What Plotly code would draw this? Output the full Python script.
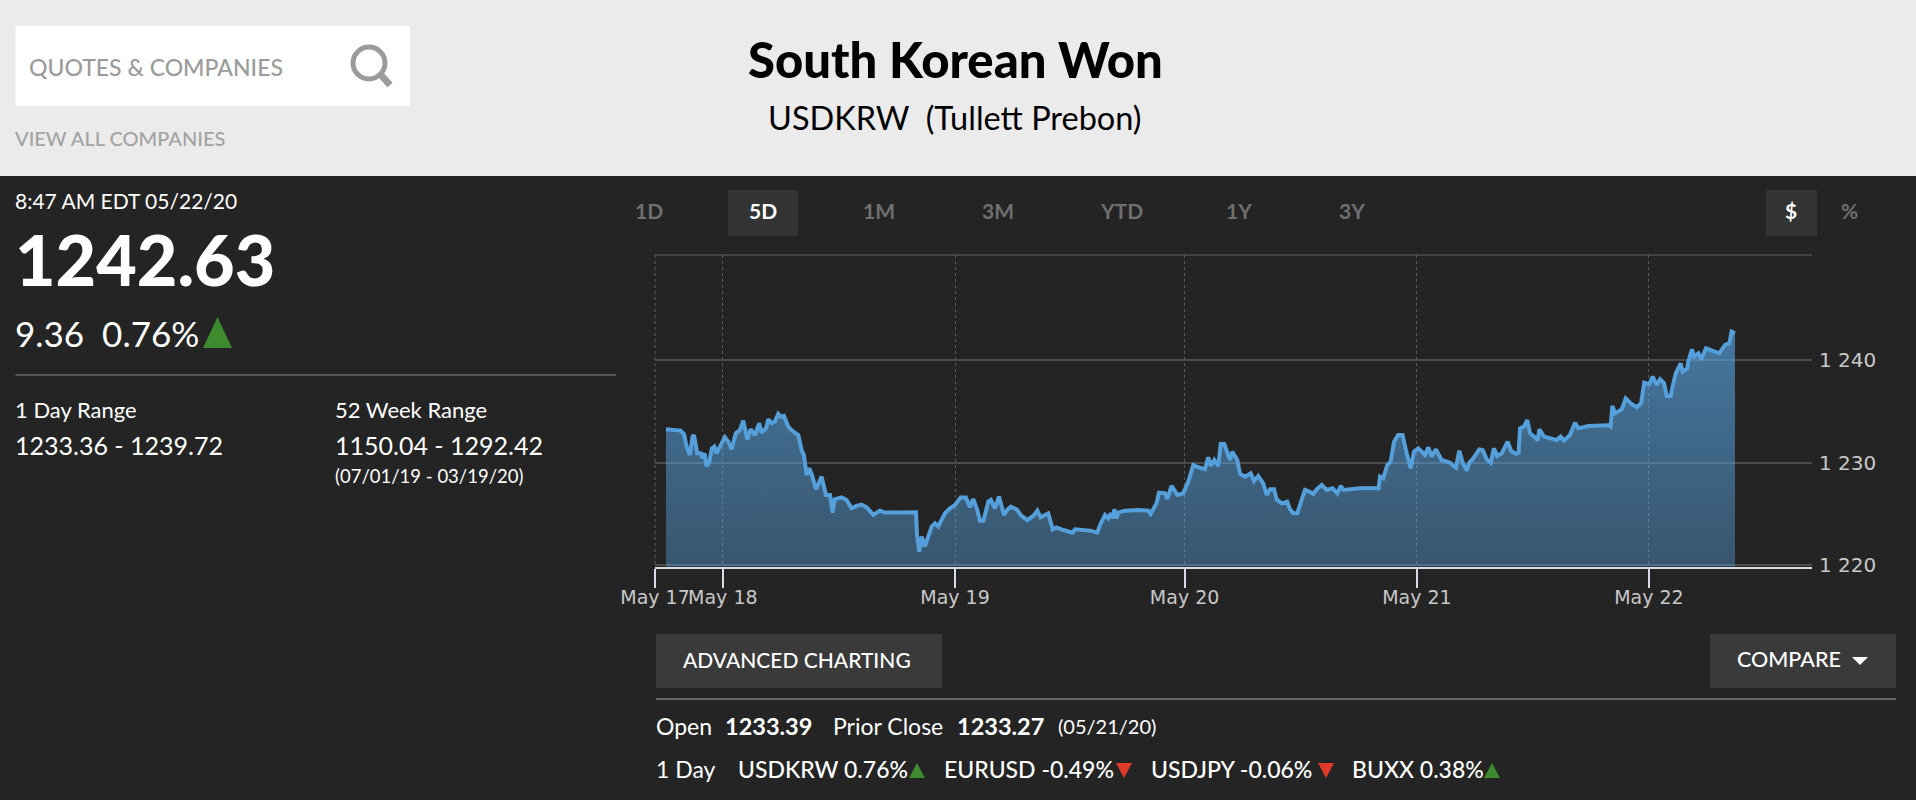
import plotly.graph_objects as go

W, H = 1916, 800

# minutes after May 18 00:00
minutes = [
    -353, -308, -262, -241, -225, -204, -188, -179, -159, -138, -126, -113, -101, -84, -68, -53, -39, -18,
    13, 34, 54, 81, 106, 127, 152, 172, 199, 226, 241, 268, 282, 303, 323, 344, 359, 379, 406, 437, 468,
    489, 503, 520, 536, 553, 578, 613, 640, 665, 681, 694, 737, 768, 799, 830, 861, 892, 934, 975, 1006,
    1099, 1199, 1205, 1219, 1234, 1254, 1275,
    1296, 1317, 1337, 1352, 1379, 1410, 1441, 1476, 1509, 1534, 1554, 1579, 1596, 1617, 1648, 1664, 1689,
    1714, 1745, 1765, 1788, 1823, 1854, 1890, 1927, 1952, 1972, 2020, 2047, 2072, 2113, 2171, 2186, 2279,
    2324, 2341, 2372, 2392, 2407, 2419, 2430, 2444, 2454, 2496, 2579, 2641, 2655, 2692, 2707, 2744, 2759,
    2785, 2821, 2858,
    2889, 2920, 2941, 2992, 3013, 3028, 3050, 3075, 3090, 3112, 3148, 3162, 3193, 3210, 3241, 3276, 3297,
    3323, 3354, 3375, 3396, 3421, 3437, 3468, 3503, 3520, 3541, 3565, 3592, 3613, 3640, 3665, 3686, 3717,
    3748, 3785, 3814, 3834, 3851, 3954, 4070, 4079, 4099, 4124, 4145, 4166, 4192, 4219, 4244, 4269, 4290,
    4317, 4358, 4379, 4399, 4426, 4461, 4492,
    4513, 4534, 4550, 4571, 4592, 4617, 4633, 4658, 4695, 4716, 4741, 4766, 4786, 4807, 4834, 4871, 4892,
    4923, 4939, 4948, 4972, 4993, 5010, 5041, 5057, 5068, 5097, 5175, 5200, 5221, 5258, 5289, 5310, 5372,
    5496, 5510, 5521, 5537, 5579, 5604, 5635, 5672, 5699, 5719, 5750, 5771, 5796, 5817, 5842, 5858, 5883,
    5899, 5916, 5945, 5957, 5986, 5992, 6015, 6028, 6055, 6073, 6102, 6137, 6185, 6220, 6247, 6261, 6282,
]
usdkrw = [
    1233.26, 1233.19, 1233.13, 1232.77, 1231.57, 1230.75, 1232.54, 1232.70, 1230.92, 1230.92, 1230.43, 1230.92,
    1229.62, 1230.10, 1231.40, 1231.57, 1230.92, 1231.57,
    1232.48, 1232.05, 1231.31, 1232.87, 1233.19, 1234.10, 1232.28, 1233.26, 1232.70, 1233.84, 1232.93, 1233.36,
    1234.23, 1233.84, 1234.01, 1234.75, 1234.49, 1234.56, 1233.52, 1233.03, 1232.70,
    1231.24, 1230.75, 1228.80, 1229.45, 1228.80, 1227.41, 1228.64, 1226.85, 1226.85, 1225.13, 1226.43, 1226.62,
    1226.36, 1225.55, 1225.78, 1225.91, 1225.65, 1224.90, 1225.32, 1225.13,
    1225.13, 1225.16, 1222.95, 1221.32, 1222.79, 1221.81, 1222.79,
    1223.76, 1224.08, 1223.76, 1224.25, 1225.06, 1225.55, 1225.87, 1226.59, 1226.59, 1225.65, 1226.46, 1225.39,
    1224.34, 1224.34, 1226.20, 1226.36, 1225.55,
    1226.69, 1224.90, 1225.39, 1225.71, 1225.45, 1224.80, 1224.41, 1224.80, 1225.32, 1224.67, 1225.06, 1223.50,
    1223.69, 1223.43, 1223.17, 1223.50, 1223.37,
    1223.17, 1223.92, 1224.90, 1224.57, 1225.06, 1224.57, 1225.45, 1224.57, 1225.13, 1225.32, 1225.39, 1225.32,
    1224.99, 1226.04, 1227.08, 1227.01, 1226.46,
    1227.73, 1226.85, 1227.01,
    1228.15, 1229.77, 1229.61, 1229.35, 1230.52, 1229.68, 1230.26, 1229.68, 1231.82, 1231.82, 1230.26, 1231.07,
    1230.26, 1228.90, 1228.64, 1228.96, 1228.21,
    1228.70, 1227.99, 1226.85, 1227.40, 1227.40, 1226.42, 1226.03, 1226.20, 1225.45, 1225.06, 1225.06, 1226.52,
    1227.34, 1227.17, 1226.95, 1227.40, 1227.82,
    1227.34, 1227.50, 1227.01, 1227.73, 1227.34, 1227.50, 1227.50, 1228.64, 1228.47, 1229.77, 1230.10, 1232.05,
    1232.70, 1232.70, 1230.91, 1229.45, 1231.07,
    1231.40, 1230.75, 1231.50, 1230.59, 1231.30, 1230.26, 1230.10,
    1230.00, 1229.68, 1229.51, 1231.17, 1230.00, 1229.22, 1230.00, 1230.42, 1231.30, 1231.24, 1230.33, 1230.00,
    1231.40, 1230.65, 1230.91, 1232.05, 1231.17,
    1230.85, 1230.98, 1233.35, 1233.51, 1234.16, 1232.86, 1232.47, 1232.15, 1233.25, 1232.54, 1232.21, 1232.54,
    1232.15, 1232.70, 1233.90, 1233.35, 1233.58,
    1233.64, 1233.51, 1235.53, 1234.81, 1235.20, 1236.28, 1235.79, 1235.40, 1235.79, 1237.81, 1237.64, 1238.39,
    1237.58, 1238.13, 1237.74, 1236.51, 1236.51,
    1237.74, 1238.78, 1239.69, 1238.88, 1239.20, 1239.85, 1241.06, 1240.34, 1240.67, 1240.08, 1241.16, 1240.93,
    1240.67, 1241.48, 1241.64, 1242.78, 1242.63,
]

tick_minutes = [-421, 0, 1441, 2866, 4308, 5748]
tick_days = ['May 17', 'May 18', 'May 19', 'May 20', 'May 21', 'May 22']
price_ticks = [1220, 1230, 1240]
price_labels = ['1 220', '1 230', '1 240']

range_tabs = ['1D', '5D', '1M', '3M', 'YTD', '1Y', '3Y']
tab_centers = [649, 763, 879, 998, 1121, 1239, 1352]

BODY = 'Lato'
AXIS = 'DejaVu Sans'


def px(x):
    return x / W


def py(y):
    return 1 - y / H


def text(fig, x, y, s, size, color='#ffffff', anchor='left', weight=400, family=BODY):
    # left-anchored annotations sit a touch right of where the glyphs should start
    if anchor == 'left':
        x -= 1.5
    fig.add_annotation(x=px(x), y=py(y - 1), xref='paper', yref='paper', text=s, showarrow=False,
                       xanchor=anchor, yanchor='middle', borderpad=0,
                       font=dict(family=family, size=size, color=color, weight=weight))


def rect(fig, x0, y0, x1, y1, color):
    fig.add_shape(type='rect', xref='paper', yref='paper', x0=px(x0), x1=px(x1), y0=py(y0), y1=py(y1),
                  fillcolor=color, line_width=0, layer='below')


def rule(fig, x0, y0, x1, y1, color, width, dash='solid'):
    fig.add_shape(type='line', xref='paper', yref='paper', x0=px(x0), x1=px(x1), y0=py(y0), y1=py(y1),
                  line=dict(color=color, width=width, dash=dash), layer='below')


def triangle(fig, x0, x1, y_base, y_tip, color):
    mid = (x0 + x1) / 2
    path = f'M {px(x0)} {py(y_base)} L {px(x1)} {py(y_base)} L {px(mid)} {py(y_tip)} Z'
    fig.add_shape(type='path', xref='paper', yref='paper', path=path, fillcolor=color, line_width=0)


fig = go.Figure()

fig.add_trace(go.Scatter(
    x=minutes, y=usdkrw, mode='lines', fill='tozeroy',
    line=dict(color='#559fdb', width=4),
    fillgradient=dict(type='vertical', start=1243, stop=1220,
                      colorscale=[[0, 'rgba(90,170,235,0.62)'], [1, 'rgba(90,170,235,0.37)']]),
    hoverinfo='x+y',
))

fig.update_xaxes(domain=[px(655), px(1812)], range=[-421, 6760], tickvals=tick_minutes, ticktext=tick_days,
                 automargin=False, tickangle=0, ticklabelstandoff=-6,
                 ticks='outside', ticklen=19, tickwidth=1.5, tickcolor='#d5dce6',
                 showline=True, linecolor='#d5dce6', linewidth=2,
                 showgrid=True, gridcolor='#5c5c5c', griddash='dot', gridwidth=1, zeroline=False,
                 tickfont=dict(family=AXIS, size=19, color='#c8c8c8'))
fig.update_yaxes(domain=[py(566.5), py(255)], range=[1219.87, 1250.26], side='right',
                 automargin=False, ticklabelstandoff=6,
                 tickvals=price_ticks, ticktext=price_labels, ticks='', ticklen=0,
                 showgrid=True, gridcolor='#4c4c4c', gridwidth=1.5, zeroline=False, showline=False,
                 tickfont=dict(family=AXIS, size=20, color='#c8c8c8'))

# page header
rect(fig, 0, 0, W, 176, '#ebebeb')
rect(fig, 15.5, 26, 410, 106, '#ffffff')
text(fig, 29, 68, 'QUOTES &amp; COMPANIES', 23, '#9b9b9b', weight=500)
fig.add_shape(type='circle', xref='paper', yref='paper', x0=px(353), x1=px(385), y0=py(47), y1=py(79),
              line=dict(color='#9b9b9b', width=5))
rule(fig, 380, 74, 390, 85, '#9b9b9b', 7)
text(fig, 15.5, 139, 'VIEW ALL COMPANIES', 20, '#a3a3a3', weight=500)
text(fig, 955, 60, 'South Korean Won', 49, '#000000', 'center', 900)
text(fig, 955, 119, 'USDKRW  (Tullett Prebon)', 32.5, '#000000', 'center')

# quote panel
text(fig, 15, 202, '8:47 AM EDT 05/22/20', 21)
text(fig, 15, 260, '1242.63', 70, weight=900)
text(fig, 15, 334, '9.36  0.76%', 35)
triangle(fig, 203, 232, 348, 317, '#3d8b2e')
rule(fig, 15.5, 375, 616, 375, '#666666', 1.5)
text(fig, 15, 411, '1 Day Range', 22)
text(fig, 335, 411, '52 Week Range', 22)
text(fig, 15, 446, '1233.36 - 1239.72', 25)
text(fig, 335, 446, '1150.04 - 1292.42', 25)
text(fig, 335, 477, '(07/01/19 - 03/19/20)', 18.5)

# range tabs
rect(fig, 728, 190, 798, 236, '#333333')
rect(fig, 1766, 190, 1817, 236, '#333333')
for tab, center in zip(range_tabs, tab_centers):
    active = tab == '5D'
    text(fig, center, 212, tab, 21, '#ffffff' if active else '#6f6f6f', 'center', 700)
text(fig, 1791, 212, '$', 21, '#ffffff', 'center', 700)
text(fig, 1849, 212, '%', 21, '#6f6f6f', 'center', 700)

# top rule of the plot, and the dotted line at the May 17 edge (no grid line is drawn on the range edge)
rule(fig, 655, 255, 1812, 255, '#4c4c4c', 1.5)
rule(fig, 655, 255, 655, 566, '#5c5c5c', 1, 'dot')

# buttons
rect(fig, 656, 634, 942, 688, '#3a3a3a')
text(fig, 683, 660, 'ADVANCED CHARTING', 21, weight=500)
rect(fig, 1710, 634, 1896, 688, '#3a3a3a')
text(fig, 1737, 660, 'COMPARE', 21.5, weight=500)
triangle(fig, 1852, 1868, 657, 665, '#ffffff')
rule(fig, 656, 699, 1896, 699, '#666666', 2)

# summary rows
text(fig, 656, 727, 'Open', 23)
text(fig, 725, 727, '1233.39', 23.5, weight=700)
text(fig, 833, 727, 'Prior Close', 23)
text(fig, 957, 727, '1233.27', 23.5, weight=700)
text(fig, 1058, 727, '(05/21/20)', 20)
text(fig, 656, 770, '1 Day', 23)
text(fig, 738, 770, 'USDKRW 0.76%', 23, weight=500)
triangle(fig, 909, 925, 778, 763, '#3d8b2e')
text(fig, 944, 770, 'EURUSD -0.49%', 23, weight=500)
triangle(fig, 1116, 1132, 763, 778, '#e03a2a')
text(fig, 1151, 770, 'USDJPY -0.06%', 23, weight=500)
triangle(fig, 1318, 1334, 763, 778, '#e03a2a')
text(fig, 1352, 770, 'BUXX 0.38%', 23, weight=500)
triangle(fig, 1484, 1500, 778, 763, '#3d8b2e')

fig.update_layout(width=W, height=H, margin=dict(l=0, r=0, t=0, b=0), autosize=False, showlegend=False,
                  paper_bgcolor='#242424', plot_bgcolor='rgba(0,0,0,0)')
fig.write_html('out.html', config={'displayModeBar': False},
               post_script="document.body.style.margin='0';document.body.style.overflow='hidden';")
